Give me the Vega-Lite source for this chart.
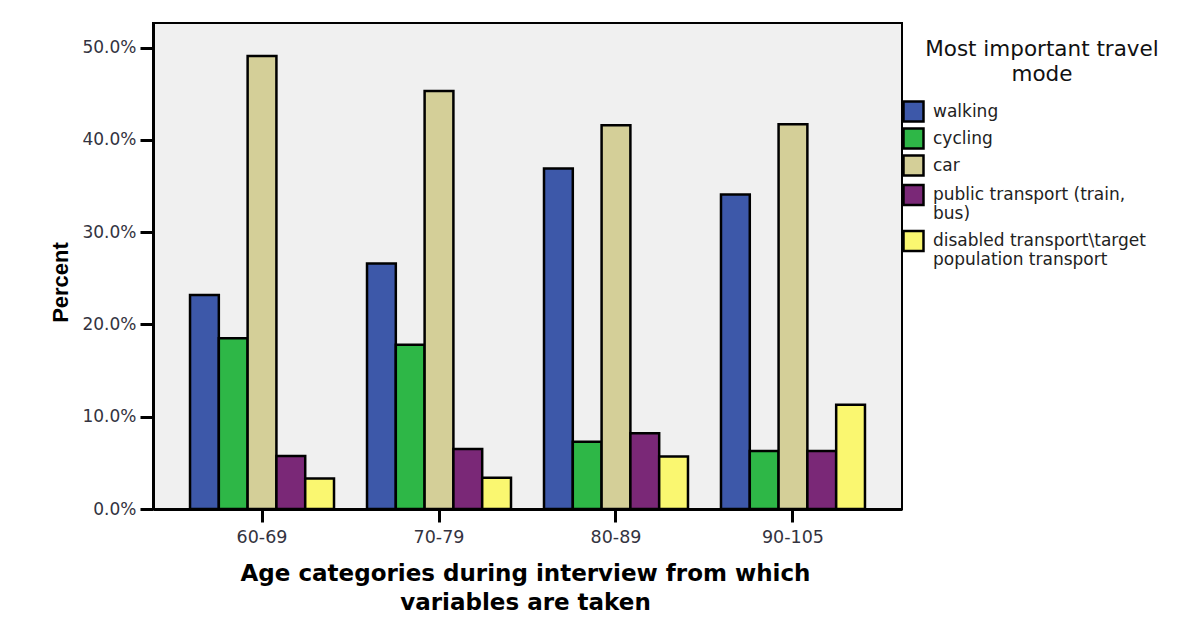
{
  "$schema": "https://vega.github.io/schema/vega-lite/v6.json",
  "autosize": {"type": "none"},
  "width": 749,
  "height": 486,
  "padding": {"left": 153, "top": 23, "right": 299, "bottom": 125},
  "background": "white",
  "title": {
    "text": ["Most important travel", "mode"],
    "orient": "top", "anchor": "start", "frame": "group", "align": "center", "baseline": "top",
    "offset": 0, "dx": 889, "dy": 62,
    "font": "DejaVu Sans", "fontSize": 21.5, "fontWeight": "normal", "color": "#111", "lineHeight": 25
  },
  "data": {"values": [
    {"age": "60-69", "mode": "walking", "pct": 23.2},
    {"age": "60-69", "mode": "cycling", "pct": 18.5},
    {"age": "60-69", "mode": "car", "pct": 49.1},
    {"age": "60-69", "mode": "public transport (train, bus)", "pct": 5.75},
    {"age": "60-69", "mode": "disabled transport\\target population transport", "pct": 3.3},
    {"age": "70-79", "mode": "walking", "pct": 26.6},
    {"age": "70-79", "mode": "cycling", "pct": 17.8},
    {"age": "70-79", "mode": "car", "pct": 45.3},
    {"age": "70-79", "mode": "public transport (train, bus)", "pct": 6.5},
    {"age": "70-79", "mode": "disabled transport\\target population transport", "pct": 3.4},
    {"age": "80-89", "mode": "walking", "pct": 36.9},
    {"age": "80-89", "mode": "cycling", "pct": 7.3},
    {"age": "80-89", "mode": "car", "pct": 41.6},
    {"age": "80-89", "mode": "public transport (train, bus)", "pct": 8.2},
    {"age": "80-89", "mode": "disabled transport\\target population transport", "pct": 5.7},
    {"age": "90-105", "mode": "walking", "pct": 34.1},
    {"age": "90-105", "mode": "cycling", "pct": 6.3},
    {"age": "90-105", "mode": "car", "pct": 41.7},
    {"age": "90-105", "mode": "public transport (train, bus)", "pct": 6.3},
    {"age": "90-105", "mode": "disabled transport\\target population transport", "pct": 11.3}
  ]},
  "encoding": {
    "x": {
      "field": "age", "type": "nominal", "sort": ["60-69", "70-79", "80-89", "90-105"],
      "scale": {"paddingInner": 0, "paddingOuter": 0.116},
      "axis": {
        "title": ["Age categories during interview from which", "variables are taken"],
        "titleFont": "DejaVu Sans", "titleFontSize": 23, "titleFontWeight": "bold", "titleColor": "black",
        "titleLineHeight": 29, "titleBaseline": "middle", "titleAnchor": "middle",
        "titleX": 372, "titleY": 64,
        "labelAngle": 0, "labelFont": "DejaVu Sans", "labelFontSize": 17.5, "labelColor": "#333340",
        "labelPadding": 6,
        "domainColor": "black", "domainWidth": 3,
        "tickColor": "black", "tickWidth": 3, "tickSize": 13,
        "grid": false
      }
    },
    "xOffset": {
      "field": "mode", "type": "nominal",
      "sort": ["walking", "cycling", "car", "public transport (train, bus)", "disabled transport\\target population transport"],
      "scale": {
        "domain": ["walking", "cycling", "car", "public transport (train, bus)", "disabled transport\\target population transport"],
        "paddingInner": 0, "paddingOuter": 0.573
      }
    },
    "y": {
      "field": "pct", "type": "quantitative",
      "scale": {"domain": [0, 52.68], "nice": false, "zero": true},
      "axis": {
        "title": "Percent",
        "titleFont": "Liberation Sans", "titleFontSize": 22, "titleFontWeight": "bold", "titleColor": "black",
        "titleX": -93, "titleY": 259, "titleAlign": "center", "titleBaseline": "middle", "titleAngle": -90,
        "values": [0, 10, 20, 30, 40, 50],
        "labelExpr": "format(datum.value, '.1f') + '%'",
        "labelFont": "DejaVu Sans", "labelFontSize": 17, "labelColor": "#333340", "labelPadding": 4,
        "domainColor": "black", "domainWidth": 3,
        "tickColor": "black", "tickWidth": 3, "tickSize": 13,
        "grid": false
      }
    }
  },
  "layer": [
    {
      "transform": [{"filter": {"field": "mode", "oneOf": ["walking", "cycling", "car"]}}],
      "mark": {"type": "bar", "stroke": "black", "strokeWidth": 2.5},
      "encoding": {
        "fill": {
          "field": "mode", "type": "nominal",
          "scale": {"domain": ["walking", "cycling", "car"], "range": ["#3D58A9", "#2EB747", "#D4CF98"]},
          "legend": {
            "title": null,
            "orient": "none", "legendX": 749, "legendY": 77,
            "padding": 0,
            "labelFont": "DejaVu Sans", "labelFontSize": 17, "labelColor": "#222", "labelOffset": 8, "labelLimit": 400,
            "symbolType": "square", "symbolSize": 400, "symbolStrokeColor": "black", "symbolStrokeWidth": 2.5,
            "symbolOpacity": 1, "rowPadding": -4
          }
        }
      }
    },
    {
      "transform": [{"filter": {"field": "mode", "oneOf": ["public transport (train, bus)", "disabled transport\\target population transport"]}}],
      "mark": {"type": "bar", "stroke": "black", "strokeWidth": 2.5},
      "encoding": {
        "fill": {
          "field": "mode", "type": "nominal",
          "scale": {
            "domain": ["public transport (train, bus)", "disabled transport\\target population transport"],
            "range": ["#7A2877", "#FAF770"]
          },
          "legend": {
            "title": null,
            "orient": "none", "legendX": 749, "legendY": 160.5,
            "padding": 0,
            "labelFont": "DejaVu Sans", "labelFontSize": 17, "labelColor": "#222", "labelOffset": 8, "labelLimit": 400,
            "labelLineHeight": 21,
            "labelExpr": "datum.label == 'public transport (train, bus)' ? ['public transport (train,', 'bus)'] : ['disabled transport\\\\target', 'population transport']",
            "symbolType": "square", "symbolSize": 400, "symbolStrokeColor": "black", "symbolStrokeWidth": 2.5,
            "symbolOpacity": 1, "rowPadding": 3
          }
        }
      }
    }
  ],
  "resolve": {"scale": {"fill": "independent"}, "legend": {"fill": "independent"}},
  "config": {
    "view": {"fill": "#F0F0F0", "stroke": "black", "strokeWidth": 2}
  }
}
